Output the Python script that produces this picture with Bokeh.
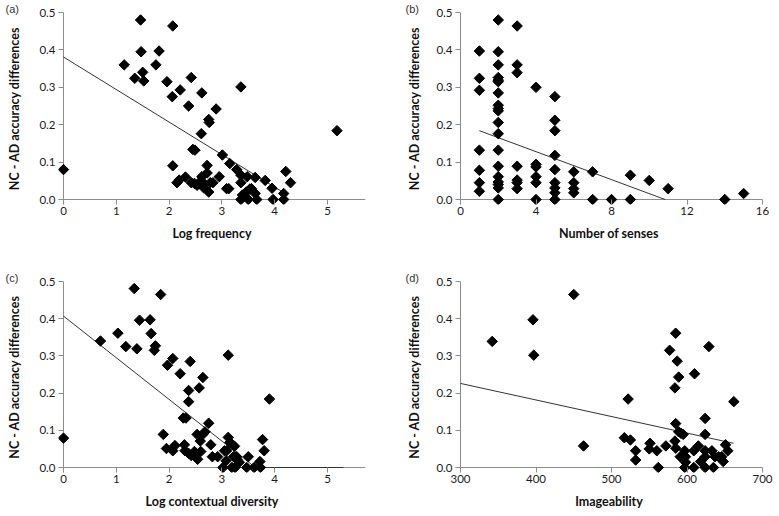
import numpy as np
from bokeh.plotting import figure
from bokeh.layouts import column, row
from bokeh.models import Range1d, FixedTicker, Span, Title, NumeralTickFormatter
from bokeh.embed import file_html
from bokeh.resources import INLINE

# ---------------- data ----------------
y_label = "NC - AD accuracy differences"
y_ticks = [0.0, 0.1, 0.2, 0.3, 0.4, 0.5]

# (a) Log frequency
freq_x = [0, 1.46, 2.07, 1.15, 1.47, 1.81, 1.75, 1.35, 1.50, 1.52, 1.96, 2.42, 2.21, 2.06, 2.62,
          2.37, 2.89, 2.75, 2.76, 2.61, 2.45, 2.49, 3.36, 5.18, 3.01, 2.07, 2.72, 3.15, 3.28, 3.36,
          3.48, 3.63, 3.82, 4.21, 4.30, 3.95, 4.17, 4.17, 3.97, 3.66, 3.50, 3.36, 3.39, 3.46, 3.53,
          3.56, 3.63, 3.36, 2.15, 2.19, 2.31, 2.42, 2.48, 2.58, 2.62, 2.53, 2.66, 2.65, 2.72, 2.75,
          2.78, 2.83, 2.95, 3.09, 3.13]
freq_y = [0.080, 0.480, 0.464, 0.360, 0.395, 0.397, 0.360, 0.324, 0.340, 0.317, 0.315, 0.326, 0.293,
          0.275, 0.285, 0.250, 0.242, 0.214, 0.206, 0.176, 0.134, 0.132, 0.301, 0.184, 0.119, 0.090,
          0.091, 0.096, 0.080, 0.065, 0.061, 0.059, 0.051, 0.075, 0.045, 0.030, 0.016, 0, 0, 0, 0, 0,
          0.012, 0.020, 0.028, 0.029, 0.016, 0.045, 0.045, 0.052, 0.060, 0.045, 0.043, 0.047, 0.061,
          0.038, 0.043, 0.032, 0.071, 0.020, 0.045, 0.045, 0.061, 0.029, 0.029]
freq_ticks = [0, 1, 2, 3, 4, 5]
freq_trend = dict(intercept=0.381, slope=-0.0870, x_from=0.0, x_to=4.24)

# (b) Number of senses
senses_x = [1] * 7 + [2] * 19 + [3] * 7 + [4] * 6 + [5] * 9 + [6] * 4 + [7] * 2 + [8] + [9] * 2 + [10] + [11] + [14] + [15]
senses_y = [0.397, 0.324, 0.292, 0.132, 0.078, 0.045, 0.022,
            0.480, 0.395, 0.360, 0.326, 0.319, 0.315, 0.285, 0.252, 0.243, 0.237, 0.206, 0.176, 0.132,
            0.089, 0.061, 0.047, 0.040, 0.031, 0.0,
            0.464, 0.360, 0.339, 0.089, 0.052, 0.045, 0.029,
            0.300, 0.094, 0.087, 0.061, 0.045, 0.0,
            0.275, 0.212, 0.184, 0.118, 0.080, 0.045, 0.031, 0.018, 0.0,
            0.074, 0.045, 0.029, 0.018,
            0.074, 0.0,
            0.0,
            0.065, 0.0,
            0.051,
            0.029,
            0.0,
            0.016]
senses_ticks = [0, 4, 8, 12, 16]
senses_trend = dict(intercept=0.2027, slope=-0.0187, x_from=1.0, x_to=10.85)

# (c) Log contextual diversity
cd_x = [0, 0.70, 1.03, 1.18, 1.34, 1.39, 1.44, 1.84, 1.64, 1.66, 1.74, 1.72, 1.97, 2.07, 2.21,
        2.40, 2.37, 2.37, 2.57, 2.64, 2.27, 2.32, 2.75, 3.12, 3.90, 1.89, 1.95, 2.07, 2.11, 2.29,
        2.30, 2.37, 2.42, 2.48, 2.53, 2.59, 2.54, 2.60, 2.64, 2.68, 2.79, 2.82, 2.92, 3.05, 3.09,
        3.02, 3.12, 3.15, 3.20, 3.24, 3.08, 3.22, 3.28, 3.29, 3.33, 3.19, 3.25, 3.50, 3.47, 3.61,
        3.72, 3.73, 3.77, 3.80]
cd_y = [0.079, 0.340, 0.361, 0.325, 0.481, 0.319, 0.396, 0.465, 0.397, 0.360, 0.327, 0.315, 0.275,
        0.293, 0.252, 0.285, 0.207, 0.177, 0.214, 0.242, 0.133, 0.133, 0.119, 0.302, 0.184, 0.089,
        0.051, 0.045, 0.059, 0.061, 0.045, 0.038, 0.032, 0.043, 0.089, 0.071, 0.022, 0.043, 0.089,
        0.096, 0.061, 0.029, 0.029, 0.045, 0.045, 0.0, 0.081, 0.067, 0.061, 0.057, 0.018, 0.029,
        0.029, 0.021, 0.014, 0.0, 0.0, 0.029, 0.0, 0.0, 0.016, 0.0, 0.075, 0.045]
cd_ticks = [0, 1, 2, 3, 4, 5]
cd_trend = dict(intercept=0.407, slope=-0.112, x_from=0.0, x_to=5.3)

# (d) Imageability
img_x = [342, 396, 397, 450, 463, 522, 517, 525, 532, 532, 551, 550, 560, 562, 572, 577, 585, 587,
         589, 584, 585, 584, 585, 589, 592, 595, 591, 597, 598, 597, 598, 610, 609, 609, 615, 618,
         624, 624, 624, 624, 624, 629, 633, 635, 637, 642, 646, 648, 651, 654, 662]
img_y = [0.339, 0.397, 0.302, 0.465, 0.058, 0.184, 0.080, 0.074, 0.045, 0.020, 0.065, 0.050, 0.045,
         0.0, 0.058, 0.315, 0.361, 0.286, 0.243, 0.214, 0.118, 0.071, 0.052, 0.096, 0.092, 0.089,
         0.029, 0.045, 0.029, 0.0, 0.014, 0.252, 0.045, 0.0, 0.058, 0.016, 0.132, 0.089, 0.045,
         0.029, 0.0, 0.325, 0.045, 0.0, 0.029, 0.029, 0.029, 0.016, 0.061, 0.045, 0.177]
img_ticks = [300, 400, 500, 600, 700]
img_trend = dict(intercept=0.3595, slope=-0.000445, x_from=300.0, x_to=661.6)

# ---------------- styling ----------------
TICK_FONT = "Lato"
LABEL_FONT = "Lato"
AXIS_COLOR = "#8c8c8c"
PAD = 5  # px between frame edge and the zero lines (room for markers, doubles as tick length)


def panel(xs, ys, trend, x_lo, x_hi, xticks, xlabel, tag, tag_dx,
          width, height, bl, br, bt, bb, y_std):
    fw = width - bl - br
    fh = height - bt - bb
    x_pad = (x_hi - x_lo) * PAD / (fw - PAD)
    y_pad = 0.5 * PAD / (fh - PAD)
    p = figure(width=width, height=height, output_backend="svg", toolbar_location=None,
               x_range=Range1d(x_lo - x_pad, x_hi), y_range=Range1d(-y_pad, 0.5),
               min_border_left=bl, min_border_right=br, min_border_top=bt, min_border_bottom=bb)
    p.outline_line_color = None
    p.xgrid.visible = False
    p.ygrid.visible = False
    p.background_fill_color = "white"
    p.border_fill_color = "white"

    for ax in (p.xaxis[0], p.yaxis[0]):
        ax.axis_line_color = None
        ax.major_tick_line_color = AXIS_COLOR
        ax.minor_tick_line_color = None
        ax.major_tick_out = 0
        ax.major_tick_in = PAD
        ax.major_label_text_font = TICK_FONT
        ax.major_label_text_font_size = "11.5px"
        ax.major_label_text_color = "#1a1a1a"
        ax.axis_label_text_font = LABEL_FONT
        ax.axis_label_text_font_style = "bold"
        ax.axis_label_text_font_size = "12.5px"
        ax.axis_label_text_color = "#111111"

    p.xaxis.major_label_standoff = 2
    p.yaxis.major_label_standoff = 3
    p.xaxis.ticker = FixedTicker(ticks=xticks)
    p.yaxis.ticker = FixedTicker(ticks=y_ticks)
    p.xaxis.formatter = NumeralTickFormatter(format="0")
    p.yaxis.formatter = NumeralTickFormatter(format="0.0")
    p.xaxis.axis_label = xlabel
    p.yaxis.axis_label = y_label
    p.xaxis.axis_label_standoff = 8
    p.yaxis.axis_label_standoff = y_std

    # axis lines through the zero / origin values
    p.add_layout(Span(location=0, dimension="width", line_color=AXIS_COLOR, line_width=1, level="underlay"))
    p.add_layout(Span(location=x_lo, dimension="height", line_color=AXIS_COLOR, line_width=1, level="underlay"))

    # trend line (clipped at zero like the spreadsheet)
    x0, x1 = trend["x_from"], trend["x_to"]
    xz = -trend["intercept"] / trend["slope"]
    tx = [x0] + ([xz] if x0 < xz < x1 else []) + [x1]
    ty = [max(0.0, trend["intercept"] + trend["slope"] * v) for v in tx]
    p.line(tx, ty, line_color="#333333", line_width=1)

    p.scatter(xs, ys, marker="square", angle=np.pi / 4, size=7.4,
              fill_color="black", line_color="black")

    p.title = Title(text=tag, align="left", offset=tag_dx, standoff=-5,
                    text_font="Liberation Sans", text_font_size="11px",
                    text_font_style="normal", text_color="#333333")
    return p


pa = panel(freq_x, freq_y, freq_trend, 0, 5.72, freq_ticks, "Log frequency", "(a)", -53,
           390, 258, 58, 25, 12, 54, 14)
pb = panel(senses_x, senses_y, senses_trend, 0, 16, senses_ticks, "Number of senses", "(b)", -50,
           388, 258, 65, 16, 12, 54, 11)
pc = panel(cd_x, cd_y, cd_trend, 0, 5.72, cd_ticks, "Log contextual diversity", "(c)", -53,
           390, 257, 58, 25, 23, 43, 14)
pd = panel(img_x, img_y, img_trend, 300, 700, img_ticks, "Imageability", "(d)", -50,
           388, 257, 65, 16, 23, 43, 11)

layout = column(row(pa, pb, spacing=0), row(pc, pd, spacing=0), spacing=0)
open("out.html", "w").write(file_html(layout, INLINE))
